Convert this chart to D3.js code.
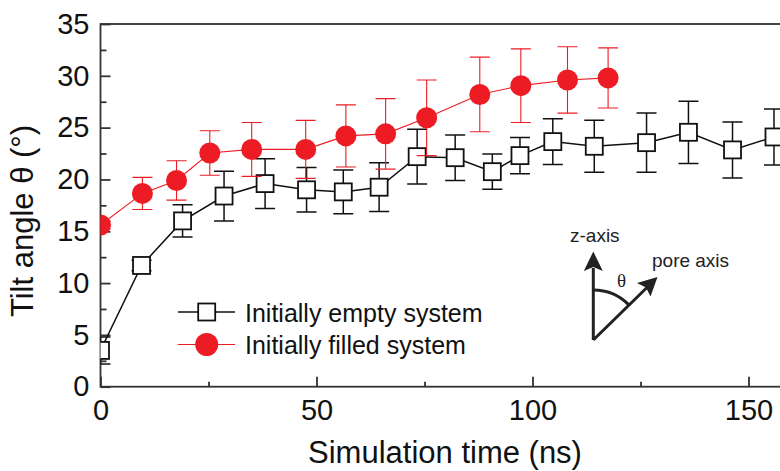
<!DOCTYPE html>
<html>
<head>
<meta charset="utf-8">
<script src="https://cdn.jsdelivr.net/npm/d3@7"></script>
<style>
  html, body { margin: 0; padding: 0; background: #fff; }
  svg { display: block; font-family: Arial, "Liberation Sans", sans-serif; }
</style>
</head>
<body>
<svg width="780" height="471"></svg>
<script>
// Initially empty system (black squares)
const emptyTime = [0, 9.5, 19.0, 28.6, 38.1, 47.7, 56.2, 64.5, 73.3, 82.1, 90.7, 97.1, 104.7, 114.3, 126.4, 136.1, 146.3, 155.9];
const emptyMean = [3.5, 11.7, 16.0, 18.4, 19.6, 19.0, 18.8, 19.25, 22.2, 22.1, 20.75, 22.3, 23.65, 23.2, 23.55, 24.55, 22.85, 24.1];
const emptyErr  = [1.3, 0.5, 1.55, 2.4, 2.4, 2.15, 2.1, 2.35, 2.65, 2.2, 1.7, 1.75, 2.2, 2.5, 2.85, 3.0, 2.7, 2.7];

// Initially filled system (red circles)
const filledTime = [0, 9.7, 17.6, 25.3, 35.0, 47.5, 56.8, 66.0, 75.5, 87.8, 97.3, 108.1, 117.5];
const filledMean = [15.6, 18.65, 19.9, 22.55, 22.9, 22.9, 24.2, 24.4, 25.95, 28.2, 29.05, 29.6, 29.8];
const filledErr  = [0.4, 1.55, 1.9, 2.15, 2.6, 2.8, 3.0, 3.4, 3.65, 3.6, 3.55, 3.2, 2.9];

const xTicks = [0, 50, 100, 150];
const xMinor = [25, 75, 125];
const yTicks = [0, 5, 10, 15, 20, 25, 30, 35];
const yMinor = [2.5, 7.5, 12.5, 17.5, 22.5, 27.5, 32.5];

const legendLabels = ['Initially empty system', 'Initially filled system'];

const RED = '#ed1c24';

function zip (t, m, e) {
  return t.map((d, i) => ({ t: d, m: m[i], e: e[i] }));
}

function draw () {
  let svg = d3.select('svg');

  let left = 100.5, top = 24, bottom = 386.7;

  let x = d3.scaleLinear().domain([0, 160]).range([left, left + 160 * 4.32]);
  let y = d3.scaleLinear().domain([0, 35]).range([bottom, top]);

  svg.append('clipPath')
      .attr('id', 'plot')
    .append('rect')
      .attr('x', left)
      .attr('y', top)
      .attr('width', 780 - left)
      .attr('height', bottom - top);

  // Frame
  svg.append('rect')
    .attr('x', left)
    .attr('y', top)
    .attr('width', x(160) - left)
    .attr('height', bottom - top)
    .attr('fill', 'none')
    .attr('stroke', '#333')
    .attr('stroke-width', 1.8);

  // Axes
  let xAxis = d3.axisBottom(x).tickValues(xTicks).tickSize(-10).tickPadding(13).tickFormat(d3.format('d')),
      xAxisMinor = d3.axisBottom(x).tickValues(xMinor).tickSize(-5).tickFormat(''),
      yAxis = d3.axisLeft(y).tickValues(yTicks).tickSize(-10).tickPadding(11).tickFormat(d3.format('d')),
      yAxisMinor = d3.axisLeft(y).tickValues(yMinor).tickSize(-6).tickFormat('');

  let axes = svg.append('g').attr('class', 'axes');

  axes.append('g').attr('transform', `translate(0, ${bottom})`).call(xAxis);
  axes.append('g').attr('transform', `translate(0, ${bottom})`).call(xAxisMinor);
  axes.append('g').attr('transform', `translate(${left}, 0)`).call(yAxis);
  axes.append('g').attr('transform', `translate(${left}, 0)`).call(yAxisMinor);

  axes.selectAll('.domain').remove();
  axes.selectAll('.tick line').attr('stroke', '#333').attr('stroke-width', 1.8);
  axes.selectAll('.tick text')
    .attr('fill', '#111')
    .style('font-size', '29px')
    .style('font-family', 'Arial, "Liberation Sans", sans-serif');

  // Axis titles
  svg.append('text')
    .attr('x', 445)
    .attr('y', 463)
    .attr('text-anchor', 'middle')
    .attr('fill', '#111')
    .style('font-size', '31px')
    .text('Simulation time (ns)');

  svg.append('text')
    .attr('transform', 'translate(33, 221) rotate(-90)')
    .attr('text-anchor', 'middle')
    .attr('fill', '#111')
    .style('font-size', '31px')
    .text('Tilt angle θ (°)');

  // Series
  let series = [
    { data: zip(emptyTime, emptyMean, emptyErr), color: '#111', width: 1.5, shape: 'square' },
    { data: zip(filledTime, filledMean, filledErr), color: RED, width: 1.1, shape: 'circle' }
  ];

  let line = d3.line().x(d => x(d.t)).y(d => y(d.m));

  let plot = svg.append('g').attr('clip-path', 'url(#plot)');

  series.forEach(s => {
    let g = plot.append('g');

    g.append('path')
      .datum(s.data)
      .attr('d', line)
      .attr('fill', 'none')
      .attr('stroke', s.color)
      .attr('stroke-width', s.width);

    let bars = g.selectAll('.err').data(s.data).enter().append('g')
      .attr('class', 'err')
      .attr('stroke', s.color)
      .attr('stroke-width', s.width);

    bars.append('line')
      .attr('x1', d => x(d.t)).attr('x2', d => x(d.t))
      .attr('y1', d => y(d.m + d.e)).attr('y2', d => y(d.m - d.e));
    bars.append('line')
      .attr('x1', d => x(d.t) - 10).attr('x2', d => x(d.t) + 10)
      .attr('y1', d => y(d.m + d.e)).attr('y2', d => y(d.m + d.e));
    bars.append('line')
      .attr('x1', d => x(d.t) - 10).attr('x2', d => x(d.t) + 10)
      .attr('y1', d => y(d.m - d.e)).attr('y2', d => y(d.m - d.e));

    if (s.shape === 'square') {
      g.selectAll('.pt').data(s.data).enter().append('rect')
        .attr('class', 'pt')
        .attr('x', d => x(d.t) - 8.5)
        .attr('y', d => y(d.m) - 8.5)
        .attr('width', 17)
        .attr('height', 17)
        .attr('fill', '#fff')
        .attr('stroke', s.color)
        .attr('stroke-width', 1.8);
    }
    else {
      g.selectAll('.pt').data(s.data).enter().append('circle')
        .attr('class', 'pt')
        .attr('cx', d => x(d.t))
        .attr('cy', d => y(d.m))
        .attr('r', 10.5)
        .attr('fill', s.color);
    }
  });

  // Legend
  let legend = svg.append('g').attr('transform', 'translate(178, 312)');

  legendLabels.forEach((label, i) => {
    let row = legend.append('g').attr('transform', `translate(0, ${i * 32.5})`);
    let s = series[i];

    row.append('line')
      .attr('x1', 0).attr('x2', 57)
      .attr('stroke', s.color)
      .attr('stroke-width', s.width);

    if (s.shape === 'square') {
      row.append('rect')
        .attr('x', 28.7 - 8.5).attr('y', -8.5)
        .attr('width', 17).attr('height', 17)
        .attr('fill', '#fff')
        .attr('stroke', s.color)
        .attr('stroke-width', 1.8);
    }
    else {
      row.append('circle')
        .attr('cx', 28.7).attr('cy', 0)
        .attr('r', 11.5)
        .attr('fill', s.color);
    }

    row.append('text')
      .attr('x', 67)
      .attr('y', 9.5)
      .attr('fill', '#111')
      .style('font-size', '25px')
      .text(label);
  });

  // Inset: tilt angle between z-axis and pore axis
  let inset = svg.append('g').attr('stroke', '#222').attr('fill', '#222');
  let ox = 593.3, oy = 340;

  inset.append('path')
    .attr('d', `M${ox},${oy} V268 M${ox},${oy} L648,286.5`)
    .attr('fill', 'none')
    .attr('stroke-width', 3);

  inset.append('path')
    .attr('d', `M${ox},251.5 L${ox + 9.5},271 L${ox},267 L${ox - 9.5},271 Z`)
    .attr('stroke', 'none');

  inset.append('path')
    .attr('d', 'M657.5,277 L650.5,296.5 L646,287.5 L637,283 Z')
    .attr('stroke', 'none');

  inset.append('path')
    .attr('d', d3.arc()({ innerRadius: 50, outerRadius: 50, startAngle: 0, endAngle: Math.PI / 4 }))
    .attr('transform', `translate(${ox}, ${oy})`)
    .attr('fill', 'none')
    .attr('stroke-width', 3);

  let labels = svg.append('g').attr('fill', '#222');

  labels.append('text')
    .attr('x', 570).attr('y', 242)
    .style('font-size', '19px')
    .text('z-axis');

  labels.append('text')
    .attr('x', 652).attr('y', 267)
    .style('font-size', '19px')
    .text('pore axis');

  labels.append('text')
    .attr('x', 621.5).attr('y', 287)
    .attr('text-anchor', 'middle')
    .style('font-family', '"Liberation Serif", "DejaVu Serif", serif')
    .style('font-size', '19px')
    .text('θ');
}

document.addEventListener('DOMContentLoaded', draw);
</script>
</body>
</html>
